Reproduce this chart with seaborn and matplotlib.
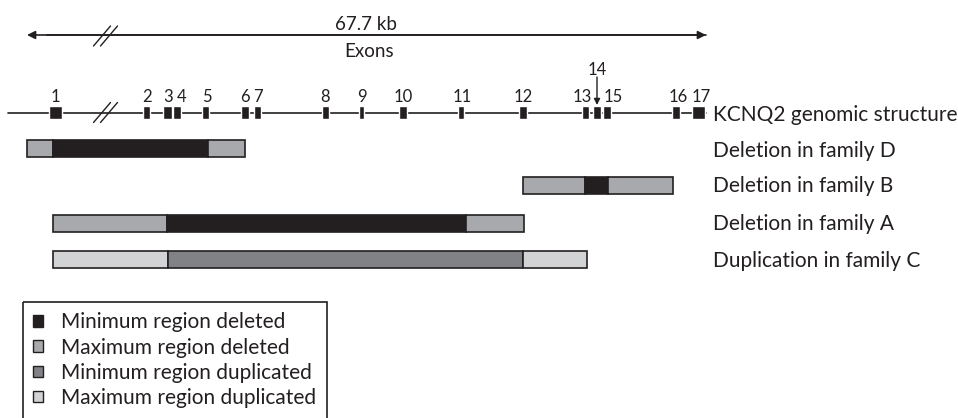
import matplotlib
matplotlib.use("Agg")
import matplotlib.pyplot as plt
import seaborn as sns
import numpy as np
from matplotlib.patches import Patch, Rectangle

# ---------------- data ----------------
exon_labels = [str(i) for i in range(1, 18)]
exon_start = [49, 143, 163, 173, 202, 241, 254, 322, 359, 399, 458, 519, 582, 593, 603, 672, 692]
exon_end = [62, 150, 172, 181, 209, 249, 261, 329, 364, 407, 464, 527, 589, 601, 611, 680, 705]

families = ["Deletion in family D", "Deletion in family B",
            "Deletion in family A", "Duplication in family C"]
event_type = ["deleted", "deleted", "deleted", "duplicated"]
max_start = [27, 523, 53, 53]
max_end = [245, 673, 524, 587]
min_start = [53, 585, 167, 168]
min_end = [208, 608, 466, 523]

span_label = "67.7 kb"
span_sub = "Exons"
track_label = "KCNQ2 genomic structure"
legend_labels = ["Minimum region deleted", "Maximum region deleted",
                 "Minimum region duplicated", "Maximum region duplicated"]

# ---------------- style / layout ----------------
sns.set_theme(style="white")
plt.rcParams["font.family"] = ["Lato", "DejaVu Sans"]
FS = 15
FS_TOP = 13.5
FS_NUM = 12
DARK = "#231f20"
colors = {("deleted", "min"): "#231f20", ("deleted", "max"): "#a7a9ac",
          ("duplicated", "min"): "#808285", ("duplicated", "max"): "#d1d3d4"}

W, H = 958, 418
fig = plt.figure(figsize=(W / 100, H / 100), dpi=100)
ax = fig.add_axes([0, 0, 1, 1])

genome_y = 112.5
exon_h = 13
row_y = [148.5, 185.5, 223.5, 259.5]
text_base = [157, 192.5, 230, 267]
bar_h = 17
label_dx = [0, 1, 1, 5, 1, 0, 0, 0, 0, 0, 1, 0, -3, 0, 6, 2, 3]
line_x0, line_x1 = 8, 706
arrow_y = 35
arrow_x0 = 27
text_x = 713

# top span arrow
ax.annotate("", xy=(arrow_x0, arrow_y), xytext=(line_x1, arrow_y),
            arrowprops=dict(arrowstyle="-|>", color=DARK, lw=1.2,
                            mutation_scale=12, shrinkA=0, shrinkB=0))
ax.annotate("", xy=(line_x1, arrow_y), xytext=(arrow_x0 + 20, arrow_y),
            arrowprops=dict(arrowstyle="-|>", color=DARK, lw=1.2,
                            mutation_scale=12, shrinkA=0, shrinkB=0))
ax.text(366, 29.5, span_label, ha="center", va="baseline", fontsize=FS_TOP, color=DARK)
ax.text(369, 57, span_sub, ha="center", va="baseline", fontsize=FS_TOP, color=DARK)

# break marks
for yc in (arrow_y + 1, genome_y):
    for bx in (102, 109):
        ax.plot([bx - 8.5, bx + 8.5], [yc + 10, yc - 10], color=DARK, lw=1.0)

# genomic line + exons
ax.plot([line_x0, line_x1], [genome_y, genome_y], color=DARK, lw=1.2, zorder=1)
ax.barh(y=[genome_y] * len(exon_start), width=np.subtract(exon_end, exon_start),
        left=exon_start, height=exon_h, color=DARK, zorder=2)
centers = (np.array(exon_start) + np.array(exon_end)) / 2
for lab, cx, dx in zip(exon_labels, centers, label_dx):
    if lab == "14":
        ax.text(cx, 75, lab, ha="center", va="baseline", fontsize=FS_NUM, color=DARK)
        ax.annotate("", xy=(cx, genome_y - exon_h / 2 - 1), xytext=(cx, 77),
                    arrowprops=dict(arrowstyle="-|>", color=DARK, lw=1.0,
                                    mutation_scale=9, shrinkA=0, shrinkB=0))
    else:
        ax.text(cx + dx, 102, lab, ha="center", va="baseline", fontsize=FS_NUM, color=DARK)
ax.text(text_x, 121, track_label, ha="left", va="baseline", fontsize=FS, color=DARK)

# deletion / duplication bars via seaborn
for i, fam in enumerate(families):
    segs = [(max_start[i], min_start[i], "max"),
            (min_start[i], min_end[i], "min"),
            (min_end[i], max_end[i], "max")]
    for s, e, kind in segs:
        sns.barplot(x=[e - s], y=[row_y[i]], orient="h", native_scale=True,
                    left=s, width=bar_h, color=colors[(event_type[i], kind)],
                    saturation=1, edgecolor=DARK, linewidth=1.2, errorbar=None, ax=ax)
    ax.text(text_x, text_base[i], fam, ha="left", va="baseline", fontsize=FS, color=DARK)

# legend
handles = [Patch(facecolor=colors[("deleted", "min")], edgecolor=DARK, lw=1),
           Patch(facecolor=colors[("deleted", "max")], edgecolor=DARK, lw=1),
           Patch(facecolor=colors[("duplicated", "min")], edgecolor=DARK, lw=1),
           Patch(facecolor=colors[("duplicated", "max")], edgecolor=DARK, lw=1)]
leg_x0, leg_y0, leg_x1 = 23, 302, 327
leg = ax.legend(handles, legend_labels, loc="upper left",
                bbox_to_anchor=(leg_x0 / W, 1 - leg_y0 / H), frameon=False,
                fontsize=FS, handlelength=0.48, handleheight=0.48,
                handletextpad=0.85, labelspacing=0.25, borderpad=0.5,
                borderaxespad=0)
for t in leg.get_texts():
    t.set_color(DARK)
ax.add_patch(Rectangle((leg_x0, leg_y0), leg_x1 - leg_x0, H + 10 - leg_y0,
                       facecolor="none", edgecolor=DARK, lw=1.2))

ax.set_xlim(0, W)
ax.set_ylim(H, 0)
ax.axis("off")
fig.savefig("out.png", dpi=100, facecolor="white")
